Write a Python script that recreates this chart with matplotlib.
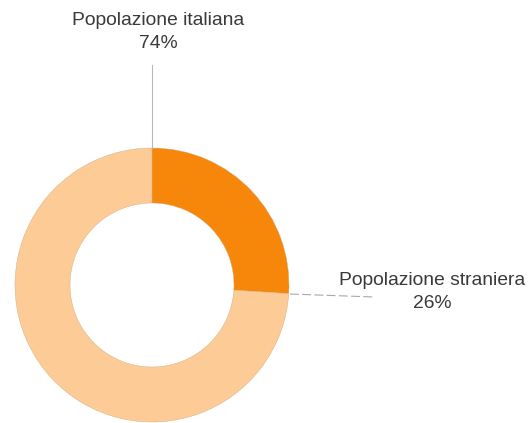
import matplotlib.pyplot as plt

plt.rcParams['font.family'] = ['Liberation Sans', 'DejaVu Sans']

labels = ["Popolazione straniera", "Popolazione italiana"]
values = [26, 74]
colors = ["#f7870b", "#fccb96"]

fig = plt.figure(figsize=(5.28, 4.23), dpi=100)
ax = fig.add_axes([0, 0, 1, 1])

cx, cy, r = 152, 138, 137
ax.pie(values, colors=colors, startangle=90, counterclock=False,
       center=(cx, cy), radius=r, frame=True,
       wedgeprops=dict(width=55, edgecolor='#d2aa80', linewidth=0.3))
ax.set_xlim(0, 528)
ax.set_ylim(0, 423)
ax.set_aspect('equal')
ax.axis('off')

total = sum(values)
pct = [f"{v / total * 100:.0f}%" for v in values]

# linee guida verso le etichette
ax.plot([cx, cx], [cy + r, 358], color='#b8b8b8', lw=0.8)
ax.plot([cx + r + 1, 374], [cy - 9, cy - 12], color='#a8a8a8', lw=0.8, ls=(0, (8, 3)))

txt = dict(fontsize=13.9, color='#3a3a3a', ha='center', va='center', linespacing=1.4)
ax.text(158, 391, f"{labels[1]}\n{pct[1]}", **txt)
ax.text(432, 131, f"{labels[0]}\n{pct[0]}", **txt)

fig.savefig('out.png', dpi=100, facecolor='white')
